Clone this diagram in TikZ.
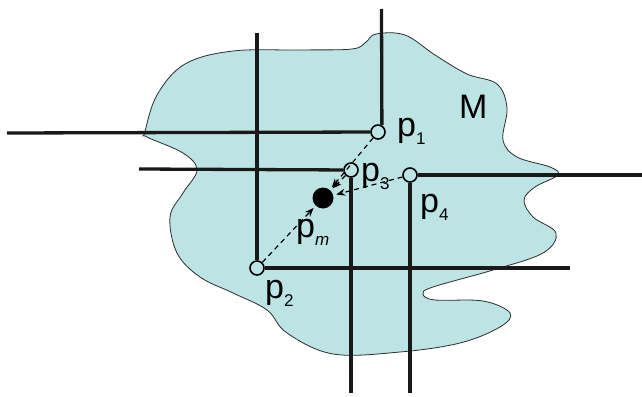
\documentclass[tikz,border=0pt]{standalone}
\usepackage{fontspec}
\setmainfont{Liberation Sans}
\usepackage{xcolor}
\usepackage{tikz}
\usetikzlibrary{arrows.meta, positioning, calc}
\definecolor{blobcyan}{RGB}{189,228,228}
\definecolor{edgegrey}{RGB}{45,45,45}
\newcommand{\ptlab}[1]{p\raisebox{-8pt}{\fontsize{17}{17}\selectfont #1}}

\begin{document}
\begin{tikzpicture}[
    x=1pt, y=-1pt,
    grid/.style={line width=3.3pt, color=black!90},
    samp/.style={circle, draw, line width=1.6pt, minimum size=14pt, inner sep=0pt},
    mean/.style={circle, fill=black, minimum size=21pt, inner sep=0pt},
    lab/.style={anchor=base west, inner sep=0pt, font=\fontsize{34}{40}\selectfont},
    arr/.style={-{Stealth[length=9pt, width=7pt]}, dashed, line width=1.2pt,
                dash pattern=on 5pt off 4pt, shorten >=3pt}
  ]
    \useasboundingbox (0,0) rectangle (642,396);
    \fill[blobcyan] plot[smooth cycle, tension=0.6] coordinates {
      (145,132) (157,95) (185,64) (233,51) (300,50) (352,49) (366,42)
      (376,34) (405,35) (435,55) (467,74) (497,84) (507,108) (503,140)
      (517,157) (550,167) (558,175) (535,187) (524,200) (533,217)
      (556,233) (543,253) (493,270) (433,287) (423,294) (435,300)
      (483,301) (510,313) (500,327) (460,343) (400,352) (333,354)
      (287,333) (267,310) (233,293) (200,277) (177,253) (170,217)
      (183,193) (197,170) (183,153) (147,137)};
    \draw[edgegrey, line width=0.8pt] plot[smooth cycle, tension=0.6] coordinates {
      (145,132) (157,95) (185,64) (233,51) (300,50) (352,49) (366,42)
      (376,34) (405,35) (435,55) (467,74) (497,84) (507,108) (503,140)
      (517,157) (550,167) (558,175) (535,187) (524,200) (533,217)
      (556,233) (543,253) (493,270) (433,287) (423,294) (435,300)
      (483,301) (510,313) (500,327) (460,343) (400,352) (333,354)
      (287,333) (267,310) (233,293) (200,277) (177,253) (170,217)
      (183,193) (197,170) (183,153) (147,137)};

    \node[samp] (p1) at (378,132) {};
    \node[samp] (p2) at (257,268) {};
    \node[samp] (p3) at (351,170) {};
    \node[samp] (p4) at (410,175) {};
    \node[mean] (pm) at (323,198) {};

    \coordinate (p1up)   at (381.5,9);
    \coordinate (p1left) at (7,133);
    \coordinate (p2up)   at (257,33);
    \coordinate (p2rt)   at (570,268);
    \coordinate (p3left) at (139,169);
    \coordinate (p3dn)   at (351,393);
    \coordinate (p4rt)   at (642,175);
    \coordinate (p4dn)   at (410,393);

    \draw[grid] (p1.60) -- (p1up);  \draw[grid] (p1) -- (p1left);
    \draw[grid] (p2) -- (p2up);     \draw[grid] (p2) -- (p2rt);
    \draw[grid] (p3) -- (p3left);   \draw[grid] (p3) -- (p3dn);
    \draw[grid] (p4) -- (p4rt);     \draw[grid] (p4) -- (p4dn);

    \draw[arr] (p1) -- (pm);
    \draw[arr] (p3) -- (pm);
    \draw[arr] (p4) -- (pm);
    \draw[arr] (p2) -- (pm);

    \node[lab] (lp1) at (397,136) {\ptlab{1}};
    \node[lab] (lp2) at (265,298) {\ptlab{2}};
    \node[lab] (lp3) at (361,181) {\ptlab{3}};
    \node[lab] (lp4) at (420,212) {\ptlab{4}};
    \node[lab] (lpm) at (296,237) {\ptlab{\textit{m}}};
    \node[lab] (lM)  at (459,118) {M};
  \end{tikzpicture}
\end{document}
